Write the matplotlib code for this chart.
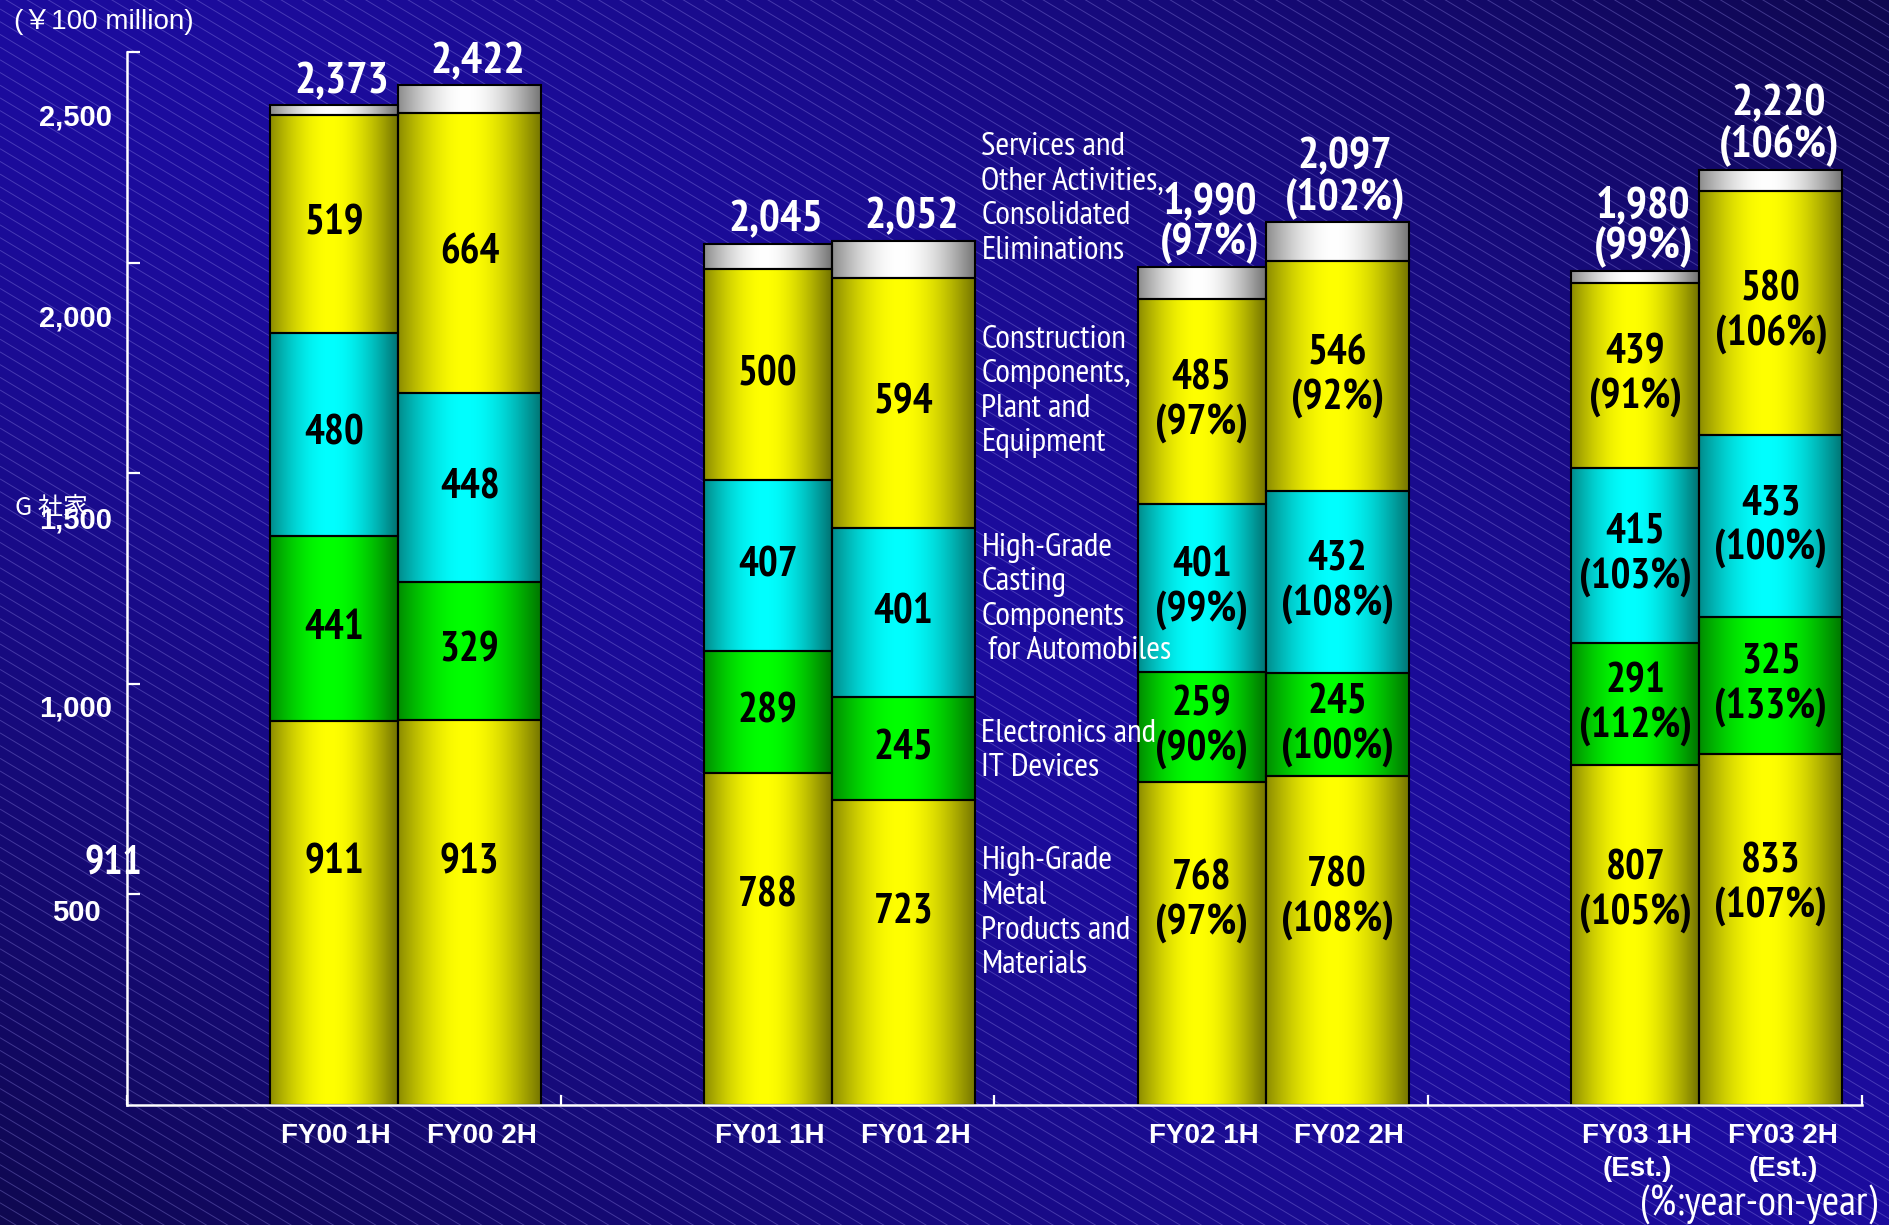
import numpy as np
import matplotlib
matplotlib.use("Agg")
import matplotlib.pyplot as plt
from matplotlib import font_manager
from matplotlib.collections import LineCollection

# ---------------- data (¥100 million) ----------------
periods = ["FY00 1H", "FY00 2H", "FY01 1H", "FY01 2H",
           "FY02 1H", "FY02 2H", "FY03 1H", "FY03 2H"]
period_notes = ["", "", "", "", "", "", "(Est.)", "(Est.)"]

metal = [911, 913, 788, 723, 768, 780, 807, 833]
electronics = [441, 329, 289, 245, 259, 245, 291, 325]
casting = [480, 448, 407, 401, 401, 432, 415, 433]
construction = [519, 664, 500, 594, 485, 546, 439, 580]
totals = [2373, 2422, 2045, 2052, 1990, 2097, 1980, 2220]

# year-on-year ratios (%), reported from FY02 onward
metal_pct = [None, None, None, None, 97, 108, 105, 107]
electronics_pct = [None, None, None, None, 90, 100, 112, 133]
casting_pct = [None, None, None, None, 99, 108, 103, 100]
construction_pct = [None, None, None, None, 97, 92, 91, 106]
total_pct = [None, None, None, None, 97, 102, 99, 106]

segment_names = [
    "High-Grade\nMetal\nProducts and\nMaterials",
    "Electronics and\nIT Devices",
    "High-Grade\nCasting\nComponents\n for Automobiles",
    "Construction\nComponents,\nPlant and\nEquipment",
    "Services and\nOther Activities,\nConsolidated\nEliminations",
]
yticks = [500, 1000, 1500, 2000, 2500]

# ---------------- layout / style ----------------
W, H, DPI = 1890, 1225, 100
PX = DPI / 72.0  # pixels per point


def pick(candidates, default):
    for fam in candidates:
        try:
            font_manager.findfont(font_manager.FontProperties(family=fam),
                                  fallback_to_default=False)
            return fam
        except Exception:
            continue
    return default


NARROW = pick(["Liberation Sans Narrow", "Arial Narrow", "PT Sans Narrow",
               "Roboto Condensed", "Asap Condensed", "Barlow Semi Condensed"], "DejaVu Sans")
SANS = pick(["Liberation Sans", "Arimo", "Arial", "Roboto"], "DejaVu Sans")
CJK = "Noto Sans CJK JP"

segment_name_y = [455, 840, 1200, 1694, 2151]      # vertical placement of the side labels
tick_label_drop = [19, 25, 47, 56, 66]              # px, tick labels sit below their ticks
bright_colors = [(1.0, 1.0, 0.0), (0.0, 1.0, 0.0), (0.0, 1.0, 1.0),
                 (1.0, 1.0, 0.0), (1.0, 1.0, 1.0)]

fig = plt.figure(figsize=(W / DPI, H / DPI), dpi=DPI)

# ---- background: diagonal blue gradient with thin light stripes ----
bg = fig.add_axes([0, 0, 1, 1], zorder=-10)
bg.set_xlim(0, W)
bg.set_ylim(H, 0)
bg.axis("off")
gx, gy = np.meshgrid(np.linspace(0, 1, 400), np.linspace(0, 1, 260))
k = np.clip(np.abs(gx - gy), 0, 1) ** 1.5
c_hi = np.array([28, 12, 158]) / 255.0
c_lo = np.array([15, 8, 80]) / 255.0
bg_img = c_hi * (1 - k[..., None]) + c_lo * k[..., None]
bg.imshow(bg_img, extent=[0, W, H, 0], aspect="auto", interpolation="bilinear")
slope = 0.6
segs = [[(0, c), (W, c + slope * W)] for c in np.arange(-slope * W, H + 20, 12.7)]
bg.add_collection(LineCollection(segs, colors=[(0.6, 0.56, 0.92, 0.35)], linewidths=0.7))

# ---- main axes ----
ax = fig.add_axes([127 / W, 120 / H, (1862 - 127) / W, (1105 - 52) / H])
ax.patch.set_alpha(0)

n = len(periods)
group = np.arange(n) // 2
half = np.arange(n) % 2
lefts = group + np.where(half == 0, 0.33, 0.625)
widths = np.where(half == 0, 0.295, 0.33)
centers = lefts + widths / 2

services = [t - (a + b + c + d) for t, a, b, c, d in
            zip(totals, metal, electronics, casting, construction)]
stack = [metal, electronics, casting, construction, services]
stack_pct = [metal_pct, electronics_pct, casting_pct, construction_pct, None]

# cylinder-like horizontal shading: dark edges, bright just left of centre
t = np.linspace(0, 1, 256)
core = np.clip(1 - np.abs(t - 0.47) / 0.53, 0, 1)
shade = 0.45 + 0.55 * np.sin(core * np.pi / 2)

bottom = np.zeros(n)
for s, vals in enumerate(stack):
    vals = np.asarray(vals, dtype=float)
    bars = ax.bar(lefts, vals, widths, bottom=bottom, align="edge",
                  facecolor="none", edgecolor="black", linewidth=1.5, zorder=3)
    grad = np.array(bright_colors[s])[None, None, :] * shade[None, :, None]
    for rect in bars:
        x0, y0 = rect.get_x(), rect.get_y()
        im = ax.imshow(grad, extent=[x0, x0 + rect.get_width(), y0, y0 + rect.get_height()],
                       aspect="auto", interpolation="bilinear", zorder=2)
        im.set_clip_path(rect)
    if stack_pct[s] is not None:
        frac = 0.63 if s == 0 else 0.5
        for i in range(n):
            label = f"{int(vals[i])}"
            if stack_pct[s][i] is not None:
                label += f"\n({stack_pct[s][i]}%)"
            ax.text(centers[i], bottom[i] + frac * vals[i], label, ha="center", va="center",
                    fontsize=30, fontweight="bold", family=NARROW, color="black",
                    linespacing=1.15, zorder=5)
    bottom = bottom + vals

# totals above the bars
for i in range(n):
    label = f"{totals[i]:,}"
    if total_pct[i] is not None:
        label += f"\n({total_pct[i]}%)"
    ax.annotate(label, xy=(centers[i], totals[i]), xytext=(8 / PX, 3 / PX),
                textcoords="offset points", ha="center", va="bottom",
                fontsize=32, fontweight="bold", family=NARROW, color="white",
                linespacing=1.0, zorder=6)

# period labels under the axis
for i in range(n):
    label = periods[i] + ("\n" + period_notes[i] if period_notes[i] else "")
    dx = 12 if half[i] == 1 else 2
    ax.annotate(label, xy=(centers[i], 0), xytext=(dx / PX, -18 / PX),
                textcoords="offset points", ha="center", va="top",
                fontsize=20, fontweight="bold", family=SANS, color="white",
                linespacing=1.35)

# segment names between FY01 and FY02
for name, yv in zip(segment_names, segment_name_y):
    ax.text(1.97, yv, name, ha="left", va="center", fontsize=24, family=NARROW,
            color="white", linespacing=1.2, zorder=7)

# y tick labels
for v, drop in zip(yticks, tick_label_drop):
    ax.annotate(f"{v:,}", xy=(0, v), xycoords=("axes fraction", "data"),
                xytext=(-51 / PX, -drop / PX), textcoords="offset points",
                ha="center", va="center", fontsize=21, fontweight="bold",
                family=SANS, color="white")

# stray figure beside the axis, same level as the first bar's label
ax.annotate(f"{metal[0]}", xy=(0, 0.63 * metal[0]), xycoords=("axes fraction", "data"),
            xytext=(-14 / PX, 0), textcoords="offset points", ha="center", va="center",
            fontsize=29, fontweight="bold", family=NARROW, color="white")

ax.set_xlim(0, 4)
ax.set_ylim(0, 2500)
ax.set_xticks([0, 1, 2, 3, 4])
ax.set_yticks(yticks)
ax.tick_params(axis="y", direction="in", length=9, width=1.6, color="white", labelleft=False)
ax.tick_params(axis="x", direction="in", length=7, width=1.6, color="white", labelbottom=False)
for side in ("top", "right"):
    ax.spines[side].set_visible(False)
for side in ("left", "bottom"):
    ax.spines[side].set_color("white")
    ax.spines[side].set_linewidth(1.8)
    ax.spines[side].set_zorder(4)

# unit and notes
fig.text(14 / W, 1 - 22 / H, "(\uffe5100 million)", ha="left", va="center",
         fontsize=20, family=[SANS, CJK], color="white")
fig.text(1877 / W, 20 / H, "(%:year-on-year)", ha="right", va="center",
         fontsize=30, family=NARROW, color="white")
fig.text(15 / W, 1 - 508 / H, "G 社家", ha="left", va="center",
         fontsize=18, family=[CJK, "DejaVu Sans"], color="white")

fig.savefig("out.png", dpi=DPI)
